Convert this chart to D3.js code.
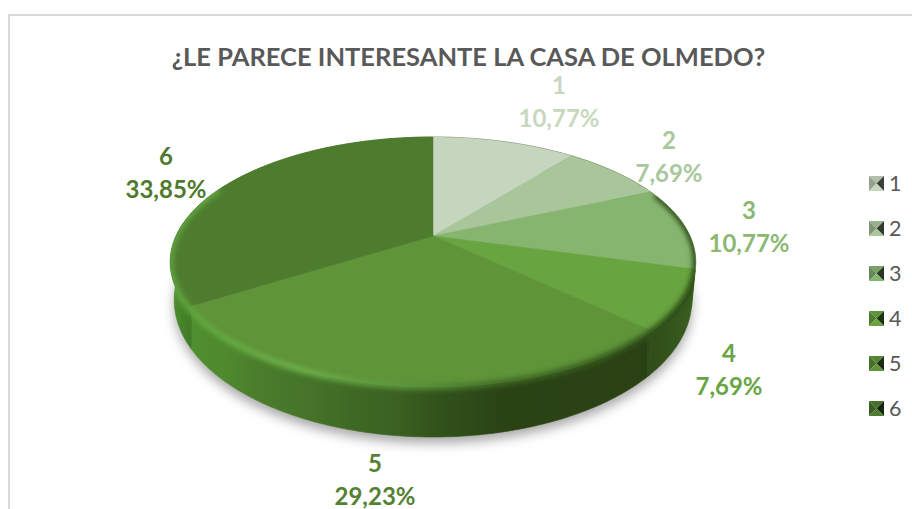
<!DOCTYPE html>
<html>
<head>
<meta charset="utf-8">
<script src="https://cdn.jsdelivr.net/npm/d3@7"></script>
<style>
  html, body { margin: 0; padding: 0; background: #fff; overflow: hidden; }
  text { font-family: Lato, "Open Sans", sans-serif; }
</style>
</head>
<body>
<div id="chart"></div>
<script>
var titleText = "¿LE PARECE INTERESANTE LA CASA DE OLMEDO?";
var categories = ["1", "2", "3", "4", "5", "6"];
var counts = [7, 5, 7, 5, 19, 22];
var topColors = ["#c6d5bd", "#a9c69b", "#86b570", "#68a440", "#5f9439", "#4e7c2f"];
var labelColors = ["#c8d8be", "#a9c79c", "#8ab973", "#6aa545", "#558133", "#4e7a2e"];
var labelX = [559, 669, 749, 729, 375, 166];
var labelY = [94, 149, 219, 362, 472, 165];

var width = 912,
    height = 509;

// the pie lies on a tilted plane, so a rim point goes through a small perspective
var persp = 0.208,
    scaleU = d3.scaleLinear().domain([-1, 1]).range([433 - 257, 433 + 257]),
    scaleV = d3.scaleLinear().domain([-1, 1]).range([236 - 119.6, 236 + 119.6]);

var rim = function (a) {
  var u = Math.sin(a), v = -Math.cos(a), w = 1 - persp * v;
  return [scaleU(u / w), scaleV(v / w)];
};

// lower edge of the wall is a slightly narrower, taller ellipse
var rimLow = function (a) {
  var p = rim(a);
  return [433 + (p[0] - 433) * 0.985, 300 + (p[1] - 262) * 1.096];
};

var line = d3.line();

var sweep = function (a0, a1) {
  var n = Math.max(2, Math.ceil((a1 - a0) * 60));
  return d3.range(n + 1).map(function (i) { return a0 + (a1 - a0) * i / n; });
};

var pie = d3.pie().sort(null)(counts);
var total = d3.sum(counts);
var pct = function (v) { return (v / total * 100).toFixed(2).replace(".", ",") + "%"; };

var svg = d3.select("#chart").append("svg")
  .attr("width", width)
  .attr("height", height);

svg.append("path")
  .attr("d", "M9,509V15H912")
  .attr("fill", "none")
  .attr("stroke", "#d9d9d9")
  .attr("stroke-width", 2);

var defs = svg.append("defs");

defs.append("filter").attr("id", "blurShadow")
  .attr("x", "-10%").attr("y", "-20%").attr("width", "120%").attr("height", "140%")
  .append("feGaussianBlur").attr("stdDeviation", 6);
defs.append("filter").attr("id", "blurBevel")
  .attr("x", "-5%").attr("y", "-5%").attr("width", "110%").attr("height", "110%")
  .append("feGaussianBlur").attr("stdDeviation", 2.5);

var sideGrad = defs.append("linearGradient").attr("id", "sideGrad")
  .attr("gradientUnits", "userSpaceOnUse")
  .attr("x1", 170).attr("x2", 696).attr("y1", 0).attr("y2", 0);
[[0, "#4d8f2e"], [0.04, "#3f7a26"], [0.042, "#4f8f30"], [0.1, "#4f8a2e"], [0.17, "#4a7c2b"], [0.25, "#46752a"], [0.34, "#3f6a25"],
 [0.44, "#3a6020"], [0.49, "#33551d"], [0.63, "#2a4315"], [0.906, "#2a4114"], [0.907, "#2f4c18"], [1, "#3a5f20"]]
  .forEach(function (s) {
    sideGrad.append("stop").attr("offset", s[0]).attr("stop-color", s[1]);
  });

var bevelGrad = defs.append("linearGradient").attr("id", "bevelGrad")
  .attr("gradientUnits", "userSpaceOnUse")
  .attr("x1", 170).attr("x2", 696).attr("y1", 0).attr("y2", 0);
[[0, "#5fa53c"], [0.25, "#6cb04a"], [0.45, "#5a953a"], [0.62, "#3f6a25"], [0.85, "#35591d"], [1, "#2c4a18"]]
  .forEach(function (s) {
    bevelGrad.append("stop").attr("offset", s[0]).attr("stop-color", s[1]);
  });

var fullRim = sweep(0, 2 * Math.PI);

// soft shadow under the disc
svg.append("path")
  .attr("d", line(fullRim.map(function (a) {
    var p = rimLow(a);
    return [p[0], p[1] + 6];
  })) + "Z")
  .attr("fill", "#000")
  .attr("fill-opacity", 0.35)
  .attr("filter", "url(#blurShadow)");

var wallPath = function (d) {
  var pts = sweep(d.startAngle, d.endAngle);
  var upper = pts.map(function (a) { return rim(a); });
  var lower = pts.slice().reverse().map(function (a) { return rimLow(a); });
  return line(upper.concat(lower)) + "Z";
};

svg.selectAll(".wall")
  .data(pie)
  .enter()
  .append("path")
  .attr("class", "wall")
  .attr("fill", "url(#sideGrad)")
  .attr("stroke", "url(#sideGrad)")
  .attr("stroke-width", 0.6)
  .attr("d", wallPath);

var discClip = defs.append("clipPath").attr("id", "discClip");
discClip.append("path")
  .attr("d", line(fullRim.map(function (a) { return rim(a); })) + "Z");
discClip.selectAll(".clipWall")
  .data(pie)
  .enter()
  .append("path")
  .attr("class", "clipWall")
  .attr("d", wallPath);

svg.selectAll(".slice")
  .data(pie)
  .enter()
  .append("path")
  .attr("class", "slice")
  .attr("fill", function (d, i) { return topColors[i]; })
  .attr("stroke", function (d, i) { return topColors[i]; })
  .attr("stroke-width", 0.5)
  .attr("d", function (d) {
    var pts = sweep(d.startAngle, d.endAngle).map(function (a) { return rim(a); });
    return line([[433, 236]].concat(pts)) + "Z";
  });

// bevel on the rim, blurred, spills a little on both sides
svg.append("g")
  .attr("clip-path", "url(#discClip)")
  .append("path")
  .attr("d", line(sweep(Math.PI * 0.38, Math.PI * 1.64).map(function (a) { return rim(a); })))
  .attr("fill", "none")
  .attr("stroke", "url(#bevelGrad)")
  .attr("stroke-width", 6)
  .attr("filter", "url(#blurBevel)");

svg.append("text")
  .attr("x", 468.5)
  .attr("y", 66)
  .attr("text-anchor", "middle")
  .attr("font-size", 25.5)
  .attr("font-weight", 700)
  .attr("fill", "#595959")
  .text(titleText);

var labels = svg.selectAll(".label")
  .data(pie)
  .enter()
  .append("text")
  .attr("class", "label")
  .attr("text-anchor", "middle")
  .attr("font-size", 24)
  .attr("font-weight", 700)
  .attr("fill", function (d, i) { return labelColors[i]; });

labels.append("tspan")
  .attr("x", function (d, i) { return labelX[i]; })
  .attr("y", function (d, i) { return labelY[i]; })
  .text(function (d, i) { return categories[i]; });

labels.append("tspan")
  .attr("x", function (d, i) { return labelX[i]; })
  .attr("y", function (d, i) { return labelY[i] + 33; })
  .text(function (d) { return pct(d.data); });

// legend: small pyramid marker + name
var legendY = d3.scalePoint().domain(categories).range([183.5, 408.5]);
var size = 15;

var legend = svg.selectAll(".legend")
  .data(categories)
  .enter()
  .append("g")
  .attr("class", "legend")
  .attr("transform", function (d) { return "translate(869," + legendY(d) + ")"; });

var facets = [
  { pts: [[0, -size / 2], [size, -size / 2], [size / 2, 0]], k: 0.1 },
  { pts: [[0, -size / 2], [size / 2, 0], [0, size / 2]], k: 0.25 },
  { pts: [[size, -size / 2], [size / 2, 0], [size, size / 2]], k: 0.7 },
  { pts: [[0, size / 2], [size / 2, 0], [size, size / 2]], k: 0 }
];

legend.each(function (d, i) {
  var g = d3.select(this);
  facets.forEach(function (f) {
    g.append("path")
      .attr("d", line(f.pts) + "Z")
      .attr("fill", d3.interpolateRgb(topColors[i], "#000")(f.k));
  });
});

legend.append("text")
  .attr("x", 20)
  .attr("y", 7.5)
  .attr("font-size", 21.5)
  .attr("fill", "#595959")
  .text(function (d) { return d; });
</script>
</body>
</html>
